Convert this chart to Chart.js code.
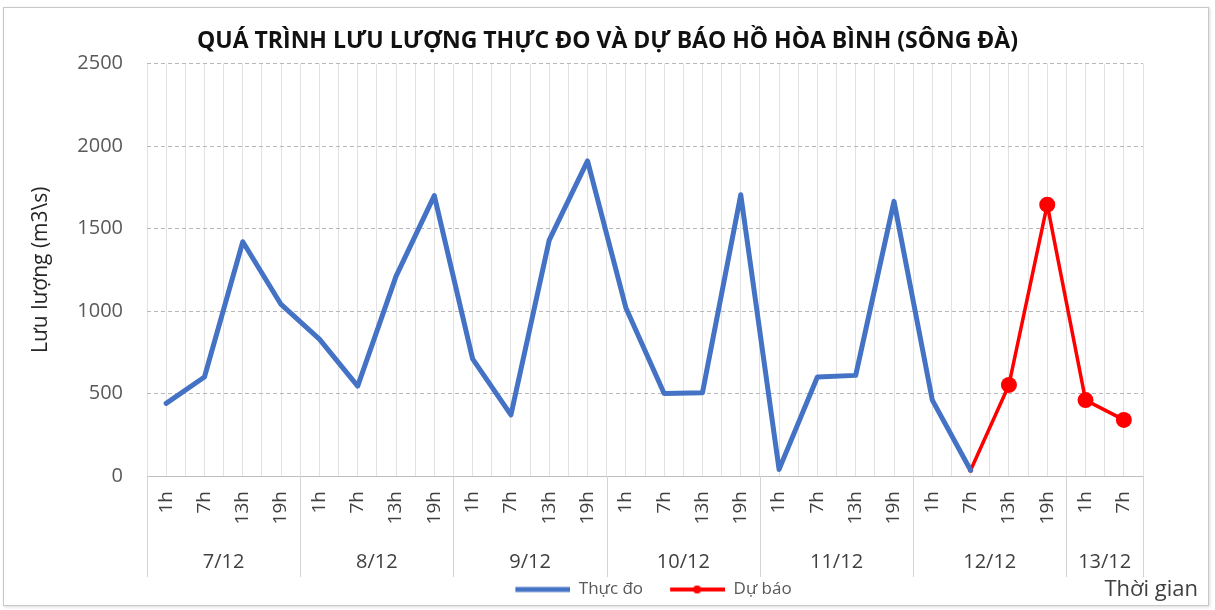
<!DOCTYPE html>
<html>
<head>
<meta charset="utf-8">
<script src="https://cdn.jsdelivr.net/npm/chart.js@4.4.0/dist/chart.umd.min.js"></script>
<style>
  html, body { margin: 0; padding: 0; background: #fff; }
  #frame { position: absolute; left: 3px; top: 7px; width: 1204px; height: 597px; border: 1px solid #c8c8c8; box-shadow: 1px 1px 3px rgba(0,0,0,0.15); }
  #wrap { position: absolute; left: 0; top: 0; width: 1215px; height: 610px; }
</style>
</head>
<body>
<div id="frame"></div>
<div id="wrap"><canvas id="chart" width="1215" height="610"></canvas></div>
<script>
// hours shown on the x axis, one per measurement
const hours = ['1h', '7h', '13h', '19h', '1h', '7h', '13h', '19h', '1h', '7h', '13h', '19h',
  '1h', '7h', '13h', '19h', '1h', '7h', '13h', '19h', '1h', '7h', '13h', '19h', '1h', '7h'];
const dates = ['7/12', '8/12', '9/12', '10/12', '11/12', '12/12', '13/12'];
const hoursPerDate = [4, 4, 4, 4, 4, 4, 2];

// measured flow (m3/s)
const measured = [440, 600, 1420, 1040, 830, 545, 1210, 1700, 710, 370, 1430, 1910,
  1020, 500, 505, 1705, 40, 600, 610, 1665, 460, 35];
// forecast flow (m3/s), starts at the last measured point
const forecast = [null, null, null, null, null, null, null, null, null, null, null, null,
  null, null, null, null, null, null, null, null, null, 35, 552, 1645, 460, 340];

const yTicks = [0, 500, 1000, 1500, 2000, 2500];

const FONT = "'Open Sans', 'Noto Sans', sans-serif";
Chart.defaults.font.family = FONT;

function legendImage(color, width, dot) {
  const c = document.createElement('canvas');
  c.width = 72; c.height = 14;
  const g = c.getContext('2d');
  g.strokeStyle = color;
  g.lineWidth = width;
  g.beginPath(); g.moveTo(17, 7); g.lineTo(72, 7); g.stroke();
  if (dot) {
    g.fillStyle = color;
    g.beginPath(); g.arc(44, 7, 4, 0, Math.PI * 2); g.fill();
  }
  return c;
}

// date row, separators and the x axis title under the hour labels
const groupLabels = {
  id: 'groupLabels',
  afterDraw(chart) {
    const { ctx, chartArea } = chart;
    const x = chart.scales.x;
    const n = hours.length;
    ctx.save();
    ctx.strokeStyle = '#d4d4d4';
    ctx.lineWidth = 1;
    ctx.fillStyle = '#404040';
    ctx.font = '20px ' + FONT;
    ctx.textAlign = 'center';
    ctx.textBaseline = 'middle';
    let start = 0;
    dates.forEach((label, i) => {
      const first = start, last = start + hoursPerDate[i] - 1;
      const left = first === 0 ? chartArea.left : (x.getPixelForValue(first - 1) + x.getPixelForValue(first)) / 2;
      const right = last === n - 1 ? chartArea.right : (x.getPixelForValue(last) + x.getPixelForValue(last + 1)) / 2;
      [left, right].forEach(px => {
        ctx.beginPath();
        ctx.moveTo(Math.round(px) + 0.5, chartArea.bottom);
        ctx.lineTo(Math.round(px) + 0.5, chartArea.bottom + 101);
        ctx.stroke();
      });
      ctx.fillText(label, (left + right) / 2, chartArea.bottom + 86);
      start = last + 1;
    });
    ctx.font = '22px ' + FONT;
    ctx.textAlign = 'right';
    ctx.fillText('Thời gian', 1198, 590);
    ctx.restore();
  }
};

new Chart(document.getElementById('chart'), {
  type: 'line',
  data: {
    labels: hours,
    datasets: [
      {
        label: 'Thực đo',
        data: measured,
        borderColor: '#4472C4',
        backgroundColor: '#4472C4',
        borderWidth: 5,
        borderJoinStyle: 'round',
        borderCapStyle: 'round',
        pointRadius: 0,
        pointHoverRadius: 0,
        tension: 0
      },
      {
        label: 'Dự báo',
        data: forecast,
        borderColor: '#FF0000',
        backgroundColor: '#FF0000',
        borderWidth: 3.5,
        borderJoinStyle: 'round',
        pointRadius: forecast.map((v, i) => i === 21 ? 2.5 : 8),
        pointBackgroundColor: '#FF0000',
        pointBorderWidth: 0,
        tension: 0
      }
    ]
  },
  options: {
    responsive: false,
    animation: false,
    layout: { padding: { top: 28, left: 10, right: 10, bottom: 2 } },
    plugins: {
      title: {
        display: true,
        text: 'QUÁ TRÌNH LƯU LƯỢNG THỰC ĐO VÀ DỰ BÁO HỒ HÒA BÌNH (SÔNG ĐÀ)',
        color: '#111',
        font: { size: 23, weight: 'bold' },
        padding: { top: 0, bottom: 8 }
      },
      legend: {
        position: 'bottom',
        fullSize: false,
        labels: {
          color: '#595959',
          font: { size: 17 },
          padding: 10,
          usePointStyle: true,
          pointStyleWidth: 72,
          generateLabels: chart => chart.data.datasets.map((ds, i) => ({
            text: ds.label,
            fontColor: '#595959',
            pointStyle: i === 0 ? legendImage(ds.borderColor, 5, false) : legendImage(ds.borderColor, 4, true),
            datasetIndex: i,
            lineWidth: 0
          }))
        }
      },
      tooltip: { enabled: false }
    },
    scales: {
      x: {
        type: 'category',
        offset: true,
        grid: { offset: true, color: '#e2e2e2', drawTicks: false },
        border: { display: true, color: '#bfbfbf' },
        ticks: {
          autoSkip: false,
          minRotation: 90,
          maxRotation: 90,
          padding: 15,
          color: '#404040',
          font: { size: 19 }
        },
        afterFit: s => { s.height = 95; }
      },
      x2: {
        type: 'category',
        labels: hours,
        position: 'bottom',
        offset: true,
        grid: { offset: false, color: '#e2e2e2', drawTicks: false },
        border: { display: false },
        ticks: { display: false },
        afterFit: s => { s.height = 0; }
      },
      y: {
        min: 0,
        max: 2500,
        afterBuildTicks: s => { s.ticks = yTicks.map(v => ({ value: v })); },
        grid: { color: '#b8b8b8', drawTicks: false },
        border: { display: false, dash: [4, 3] },
        ticks: { padding: 24, color: '#595959', font: { size: 20 }, callback: v => String(v) },
        title: {
          display: true,
          text: 'Lưu lượng (m3\\s)',
          color: '#262626',
          font: { size: 21 },
          padding: { top: 18, bottom: 0 }
        },
        afterFit: s => { s.width = 137; }
      },
      y2: {
        type: 'linear',
        position: 'right',
        grid: { display: false },
        border: { display: false },
        ticks: { display: false },
        afterFit: s => { s.width = 62; }
      }
    }
  },
  plugins: [groupLabels]
});
</script>
</body>
</html>
